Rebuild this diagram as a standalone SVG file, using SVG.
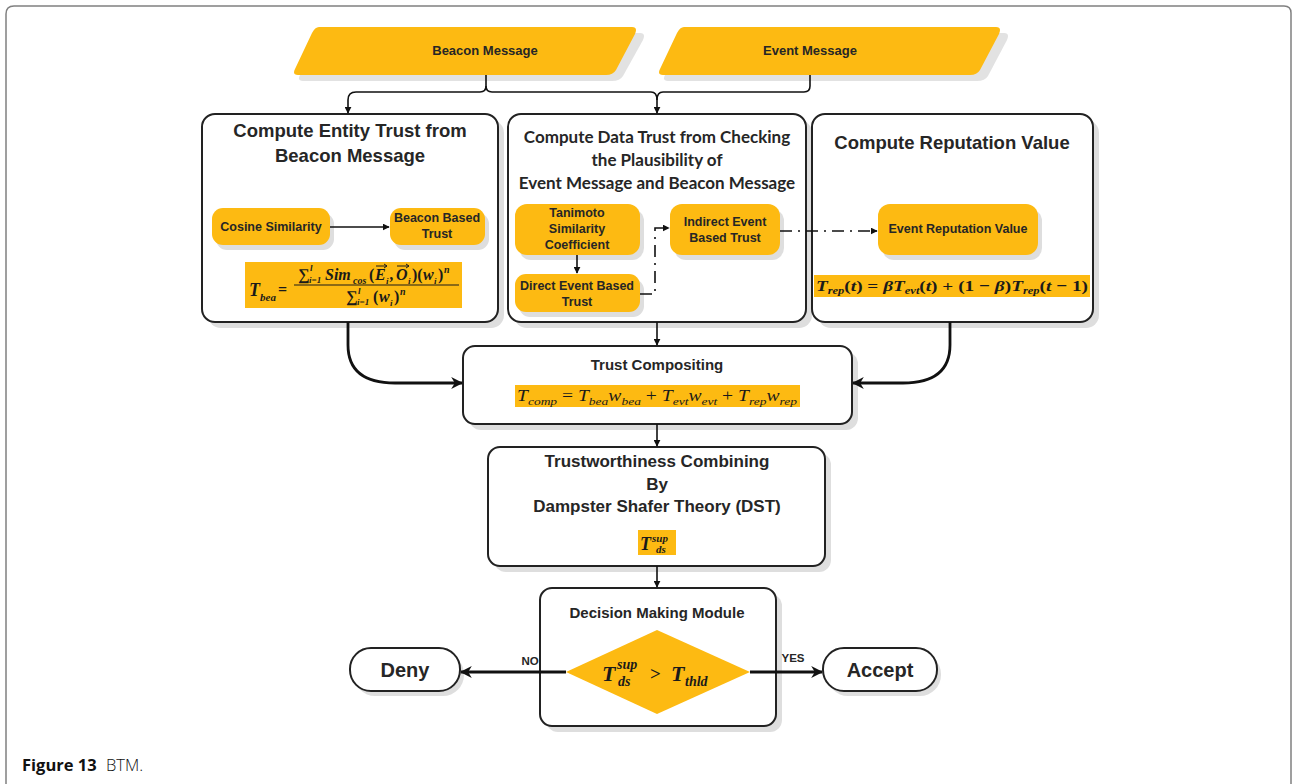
<svg xmlns="http://www.w3.org/2000/svg" width="1292" height="784" viewBox="0 0 1292 784">
<style>
.box{fill:#fff;stroke:#222;stroke-width:2}
.shadow{fill:#dedede}
.pill{fill:#FDBA12}
.hl{fill:#FDBA12}
.t{font-family:"Liberation Sans",Arial,sans-serif;font-weight:bold;fill:#262626;text-anchor:middle}
.big{font-size:18.5px}
.mid{font-size:15px}
.sm{font-size:12.5px}
.cal{font-family:Lato,"Liberation Sans",sans-serif;font-weight:bold;font-size:17px;fill:#262626;text-anchor:middle}
.m{font-family:"Liberation Serif","Times New Roman",serif;font-style:italic;font-weight:bold;fill:#1a1a1a}
.mn{font-family:"Liberation Serif","Times New Roman",serif;font-weight:bold;fill:#1a1a1a}
.mr{font-family:"Liberation Serif","Times New Roman",serif;font-style:italic;fill:#1a1a1a}
.conn{fill:none;stroke:#111;stroke-width:1.6}
.thick{fill:none;stroke:#111;stroke-width:2.8}
.dash{fill:none;stroke:#111;stroke-width:1.6;stroke-dasharray:12 6 2 6}
</style>
<defs>
<marker id="ah" viewBox="0 0 10 10" refX="9" refY="5" markerWidth="7" markerHeight="7" orient="auto" markerUnits="userSpaceOnUse">
<path d="M0,0 L10,5 L0,10 z" fill="#111"/>
</marker>
<marker id="ahb" viewBox="0 0 10 10" refX="9" refY="5" markerWidth="12" markerHeight="12" orient="auto" markerUnits="userSpaceOnUse">
<path d="M0,0 L10,5 L0,10 L3,5 z" fill="#111"/>
</marker>
</defs>
<rect width="1292" height="784" fill="#fff"/>
<path d="M6,790 L6,14 Q6,6 14,6 L1284,6 Q1291,6 1291,13 L1291,790" fill="none" stroke="#808080" stroke-width="1.5"/>

<g id="beacon-message">
<path d="M325,33 L640,33 Q646,33 643,40 L623,76 Q620,81 612,81 L303,81 Q297,81 300,75 L318,39 Q321,33 325,33 z" fill="#e2e2e2"/>
<path d="M319,27 L632,27 Q638,27 635,34 L616,70 Q613,75 606,75 L298,75 Q292,75 295,69 L312,33 Q315,27 319,27 z" class="pill"/>
<text x="485" y="55" class="t" font-size="13">Beacon Message</text>
</g>
<g id="event-message">
<path d="M690,33 L1004,33 Q1010,33 1007,40 L988,76 Q985,81 977,81 L668,81 Q662,81 665,75 L683,39 Q686,33 690,33 z" fill="#e2e2e2"/>
<path d="M684,27 L996,27 Q1002,27 999,34 L980,70 Q977,75 970,75 L663,75 Q657,75 660,69 L677,33 Q680,27 684,27 z" class="pill"/>
<text x="810" y="55" class="t" font-size="13">Event Message</text>
</g>

<g id="entity-trust">
<rect x="208" y="120" width="296" height="208" rx="13" class="shadow"/>
<rect x="202" y="114" width="296" height="208" rx="13" class="box"/>
<text x="350" y="137" class="t big">Compute Entity Trust from</text>
<text x="350" y="162" class="t big">Beacon Message</text>
<rect x="216" y="213" width="118" height="37" rx="11" class="shadow"/>
<rect x="212" y="208" width="118" height="37" rx="11" class="pill"/>
<text x="271" y="231" class="t sm">Cosine Similarity</text>
<rect x="394" y="213" width="95" height="37" rx="11" class="shadow"/>
<rect x="390" y="208" width="95" height="37" rx="11" class="pill"/>
<text x="437" y="222" class="t sm">Beacon Based</text>
<text x="437" y="238" class="t sm">Trust</text>
<rect x="245" y="262" width="217" height="46" class="hl"/>
<text x="249" y="296" class="m" font-size="18">T</text>
<text x="260" y="301" class="m" font-size="11">bea</text>
<text x="278" y="295" class="mn" font-size="16">=</text>
<line x1="294" y1="285" x2="459" y2="285" stroke="#1a1a1a" stroke-width="1.2"/>
<text x="298" y="280" class="mn" font-size="16">∑</text>
<text x="310" y="271" class="m" font-size="9">l</text>
<text x="309" y="283" class="m" font-size="9">i=1</text>
<text x="325" y="280" class="m" font-size="16">Sim</text>
<text x="353" y="284" class="m" font-size="10">cos</text>
<text x="369" y="280" class="mn" font-size="16">(</text>
<text x="375" y="280" class="m" font-size="16">E</text>
<text x="386" y="284" class="m" font-size="9">i</text>
<text x="390" y="280" class="m" font-size="16">,</text>
<text x="396" y="280" class="m" font-size="16">O</text>
<text x="408" y="284" class="m" font-size="9">i</text>
<text x="412" y="280" class="mn" font-size="16">)(</text>
<text x="423" y="280" class="m" font-size="16">w</text>
<text x="434" y="284" class="m" font-size="9">i</text>
<text x="438" y="280" class="mn" font-size="16">)</text>
<text x="444" y="273" class="m" font-size="10">n</text>
<path d="M376,266 L387,266 M384,264 L387,266 L384,268 M397,266 L409,266 M406,264 L409,266 L406,268" stroke="#1a1a1a" stroke-width="1" fill="none"/>
<text x="346" y="302" class="mn" font-size="16">∑</text>
<text x="358" y="294" class="m" font-size="9">l</text>
<text x="357" y="305" class="m" font-size="9">i=1</text>
<text x="373" y="302" class="mn" font-size="16">(</text>
<text x="379" y="302" class="m" font-size="16">w</text>
<text x="390" y="306" class="m" font-size="9">i</text>
<text x="394" y="302" class="mn" font-size="16">)</text>
<text x="400" y="295" class="m" font-size="10">n</text>
</g>

<g id="data-trust">
<rect x="514" y="120" width="298" height="208" rx="13" class="shadow"/>
<rect x="508" y="114" width="298" height="208" rx="13" class="box"/>
<text x="657" y="143" class="cal">Compute Data Trust from Checking</text>
<text x="657" y="166" class="cal">the Plausibility of</text>
<text x="657" y="189" class="cal">Event Message and Beacon Message</text>
<rect x="519" y="209" width="125" height="51" rx="12" class="shadow"/>
<rect x="515" y="204" width="125" height="51" rx="12" class="pill"/>
<text x="577" y="217" class="t sm">Tanimoto</text>
<text x="577" y="233" class="t sm">Similarity</text>
<text x="577" y="249" class="t sm">Coefficient</text>
<rect x="519" y="279" width="125" height="38" rx="11" class="shadow"/>
<rect x="515" y="274" width="125" height="38" rx="11" class="pill"/>
<text x="577" y="290" class="t sm">Direct Event Based</text>
<text x="577" y="306" class="t sm">Trust</text>
<rect x="674" y="209" width="110" height="51" rx="12" class="shadow"/>
<rect x="670" y="204" width="110" height="51" rx="12" class="pill"/>
<text x="725" y="226" class="t sm">Indirect Event</text>
<text x="725" y="242" class="t sm">Based Trust</text>
</g>

<g id="reputation">
<rect x="818" y="120" width="281" height="208" rx="13" class="shadow"/>
<rect x="812" y="114" width="281" height="208" rx="13" class="box"/>
<text x="952" y="149" class="t big">Compute Reputation Value</text>
<rect x="882" y="209" width="160" height="51" rx="12" class="shadow"/>
<rect x="878" y="204" width="160" height="51" rx="12" class="pill"/>
<text x="958" y="233" class="t sm">Event Reputation Value</text>
<rect x="814" y="275" width="276" height="22" class="hl"/>
<text x="816" y="291" class="m" font-size="15.5" textLength="272" lengthAdjust="spacingAndGlyphs">T<tspan font-size="10" dy="3">rep</tspan><tspan dy="-3" font-style="normal">(</tspan>t<tspan font-style="normal">) = </tspan>βT<tspan font-size="10" dy="3">evt</tspan><tspan dy="-3" font-style="normal">(</tspan>t<tspan font-style="normal">) + (1 − </tspan>β<tspan font-style="normal">)</tspan>T<tspan font-size="10" dy="3">rep</tspan><tspan dy="-3" font-style="normal">(</tspan>t<tspan font-style="normal"> − 1)</tspan></text>
</g>

<g id="trust-compositing">
<rect x="469" y="352" width="389" height="78" rx="12" class="shadow"/>
<rect x="463" y="346" width="389" height="78" rx="12" class="box"/>
<text x="657" y="370" class="t mid">Trust Compositing</text>
<rect x="515" y="385" width="285" height="22" class="hl"/>
<text x="517" y="401" class="mr" font-size="16" textLength="280" lengthAdjust="spacingAndGlyphs">T<tspan font-size="11" dy="4">comp</tspan><tspan dy="-4" font-style="normal"> = </tspan>T<tspan font-size="11" dy="4">bea</tspan><tspan dy="-4">w</tspan><tspan font-size="11" dy="4">bea</tspan><tspan dy="-4" font-style="normal"> + </tspan>T<tspan font-size="11" dy="4">evt</tspan><tspan dy="-4">w</tspan><tspan font-size="11" dy="4">evt</tspan><tspan dy="-4" font-style="normal"> + </tspan>T<tspan font-size="11" dy="4">rep</tspan><tspan dy="-4">w</tspan><tspan font-size="11" dy="4">rep</tspan></text>
</g>

<g id="trustworthiness">
<rect x="494" y="453" width="337" height="119" rx="12" class="shadow"/>
<rect x="488" y="447" width="337" height="119" rx="12" class="box"/>
<text x="657" y="467" class="t" font-size="17">Trustworthiness Combining</text>
<text x="657" y="490" class="t" font-size="17">By</text>
<text x="657" y="512" class="t" font-size="17">Dampster Shafer Theory (DST)</text>
<rect x="638" y="530" width="38" height="25" class="hl"/>
<text x="640" y="550" class="m" font-size="18">T</text>
<text x="652" y="542" class="m" font-size="11">sup</text>
<text x="656" y="553" class="m" font-size="11">ds</text>
</g>

<g id="decision">
<rect x="546" y="594" width="236" height="138" rx="12" class="shadow"/>
<rect x="540" y="588" width="236" height="138" rx="12" class="box"/>
<text x="657" y="618" class="t mid">Decision Making Module</text>
<path d="M657,630 L750,672 L657,714 L566,672 z" class="pill"/>
<text x="602" y="681" class="m" font-size="22">T</text>
<text x="617" y="669" class="m" font-size="14">sup</text>
<text x="618" y="686" class="m" font-size="14">ds</text>
<text x="650" y="680" class="mn" font-size="19" font-weight="normal">&gt;</text>
<text x="671" y="681" class="m" font-size="22">T</text>
<text x="685" y="686" class="m" font-size="14">thld</text>
</g>

<g id="deny">
<rect x="354" y="653" width="110" height="43" rx="21" class="shadow"/>
<rect x="350" y="648" width="110" height="43" rx="21" class="box"/>
<text x="405" y="677" class="t" font-size="20">Deny</text>
</g>
<g id="accept">
<rect x="827" y="653" width="114" height="43" rx="21" class="shadow"/>
<rect x="823" y="648" width="114" height="43" rx="21" class="box"/>
<text x="880" y="677" class="t" font-size="20">Accept</text>
</g>

<g id="connectors">
<path d="M486,75 L486,86 Q486,92 480,92 L356,92 Q348,92 348,100 L348,113" class="conn" marker-end="url(#ah)"/>
<path d="M486,86 Q486,92 492,92 L651,92 Q657,92 657,100 L657,113" class="conn" marker-end="url(#ah)"/>
<path d="M810,75 L810,86 Q810,92 804,92 L663,92 Q657,92 657,100" class="conn"/>
<path d="M330,227 L389,227" class="conn" marker-end="url(#ah)"/>
<path d="M577,255 L577,273" class="conn" marker-end="url(#ah)"/>
<path d="M640,294 L655,294 L655,228 L669,228" class="dash" marker-end="url(#ah)"/>
<path d="M780,231 L877,231" class="dash" marker-end="url(#ah)"/>
<path d="M657,322 L657,345" class="conn" marker-end="url(#ah)"/>
<path d="M348,322 L348,345 Q348,383 395,383 L462,383" class="thick" marker-end="url(#ahb)"/>
<path d="M950,322 L950,345 Q950,383 903,383 L853,383" class="thick" marker-end="url(#ahb)"/>
<path d="M657,424 L657,446" class="conn" marker-end="url(#ah)"/>
<path d="M657,566 L657,587" class="conn" marker-end="url(#ah)"/>
<path d="M566,672 L461,672" class="thick" marker-end="url(#ahb)"/>
<path d="M750,672 L822,672" class="thick" marker-end="url(#ahb)"/>
<text x="530" y="665" class="t" font-size="11.5">NO</text>
<text x="793" y="662" class="t" font-size="11.5">YES</text>
</g>

<text x="22" y="771" font-family="'Open Sans','Noto Sans',sans-serif" font-size="16.5" font-weight="bold" fill="#111">Figure 13</text>
<text x="106" y="771" font-family="'Open Sans','Noto Sans',sans-serif" font-size="16.5" font-weight="300" fill="#111">BTM.</text>
</svg>
